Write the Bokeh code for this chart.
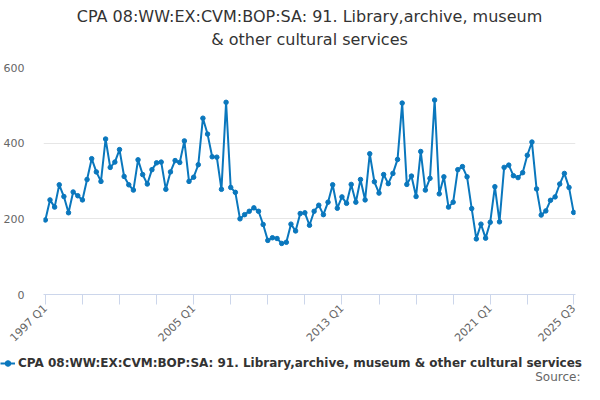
import math
from bokeh.plotting import figure
from bokeh.layouts import column
from bokeh.models import Range1d, FixedTicker, Title, Legend, LegendItem, Label
from bokeh.embed import file_html
from bokeh.resources import INLINE

title_line1 = "CPA 08:WW:EX:CVM:BOP:SA: 91. Library,archive, museum"
title_line2 = "& other cultural services"
series_name = "CPA 08:WW:EX:CVM:BOP:SA: 91. Library,archive, museum & other cultural services"
source_text = "Source:"

years = list(range(1997, 2026))
quarter_labels = [f"{y} Q{q}" for y in years for q in (1, 2, 3, 4)][:115]

values = [
    197, 250, 231, 290, 259, 216, 271, 261, 250, 304,
    359, 324, 299, 411, 336, 350, 383, 312, 290, 276,
    356, 317, 292, 330, 348, 350, 278, 324, 354,
    349, 406, 299, 310, 343, 466, 424, 364, 363, 278,
    508, 283, 270, 200, 211, 220, 229, 220, 185, 143,
    150, 148, 135, 138, 186, 168, 214, 216,
    183, 220, 236, 211, 244, 290, 228, 258, 241, 291,
    244, 304, 250, 372, 298, 268, 317, 293, 320, 357,
    506, 291, 313, 259, 378, 276, 307, 514,
    266, 311, 231, 244, 330, 338, 311, 227, 147, 186,
    149, 191, 285, 192, 336, 342, 314, 309, 322, 368,
    403, 279, 210, 221, 249, 258, 292, 320, 283, 217,
]
x_idx = list(range(len(values)))

tick_idx = list(range(0, 112, 8)) + [114]
labelled = {"1997 Q1", "2005 Q1", "2013 Q1", "2021 Q1", "2025 Q3"}

color = "#0a77bd"

p = figure(width=584, height=352, output_backend="svg", toolbar_location=None,
           title=None,
           x_range=Range1d(-0.4, 114.4), y_range=Range1d(0, 600),
           min_border_left=37, min_border_right=9, min_border_top=67,
           min_border_bottom=54)
p.frame_align = False
p.outline_line_color = None
p.background_fill_color = "white"
p.border_fill_color = "white"

p.line(x_idx, values, line_color=color, line_width=2)
p.scatter(x_idx, values, size=4.5, fill_color=color, line_color=color)

# axes
p.xgrid.grid_line_color = None
p.ygrid.grid_line_color = "#e6e6e6"
p.yaxis.ticker = FixedTicker(ticks=[0, 200, 400, 600])
p.yaxis.axis_line_color = None
p.yaxis.major_tick_line_color = None
p.yaxis.minor_tick_line_color = None
p.yaxis.major_label_standoff = 13
p.yaxis.major_label_text_font = "DejaVu Sans"
p.yaxis.major_label_text_font_size = "11px"
p.yaxis.major_label_text_color = "#666666"

p.xaxis.ticker = FixedTicker(ticks=tick_idx)
p.xaxis.major_label_overrides = {i: (quarter_labels[i] if quarter_labels[i] in labelled else "") for i in tick_idx}
p.xaxis.axis_line_color = "#ccd6eb"
p.xaxis.major_tick_line_color = "#ccd6eb"
p.xaxis.major_tick_out = 10
p.xaxis.major_tick_in = 0
p.xaxis.minor_tick_line_color = None
p.xaxis.major_label_orientation = math.pi / 4
p.xaxis.major_label_standoff = 2
p.xaxis.major_label_text_font = "DejaVu Sans"
p.xaxis.major_label_text_font_size = "11px"
p.xaxis.major_label_text_color = "#666666"

# titles, stacked outward from the frame: spacer, line 2, line 1
p.add_layout(Title(text=" ", text_font_size="1px", standoff=15), "above")
p.add_layout(Title(text=title_line2, align="center", text_font="DejaVu Sans",
                   text_font_size="16px", text_font_style="normal",
                   text_color="#333333", standoff=2), "above")
p.add_layout(Title(text=title_line1, align="center", text_font="DejaVu Sans",
                   text_font_size="16px", text_font_style="normal",
                   text_color="#333333", standoff=2), "above")

# legend strip below the chart
p2 = figure(width=584, height=32, output_backend="svg", toolbar_location=None,
            title=None, x_range=Range1d(0, 584), y_range=Range1d(0, 32),
            x_axis_type=None, y_axis_type=None,
            min_border_left=0, min_border_right=0, min_border_top=0,
            min_border_bottom=0)
p2.frame_align = False
p2.outline_line_color = None
p2.xgrid.grid_line_color = None
p2.ygrid.grid_line_color = None
p2.background_fill_color = "white"
p2.border_fill_color = "white"

l_line = p2.line(x_idx, values, line_color=color, line_width=2, visible=False)
l_pts = p2.scatter(x_idx, values, size=4.5, fill_color=color, line_color=color, visible=False)

legend = Legend(items=[LegendItem(label=series_name, renderers=[l_line, l_pts])],
                location=(0, 14), orientation="horizontal", padding=0, margin=0,
                glyph_width=15, glyph_height=14, label_height=14, label_standoff=3,
                label_text_font="DejaVu Sans", label_text_font_style="bold",
                label_text_font_size="12px", label_text_color="#333333",
                background_fill_alpha=0, border_line_color=None,
                inactive_fill_alpha=0)
p2.add_layout(legend)

p2.add_layout(Label(x=580, y=8, text=source_text, text_align="right",
                    text_baseline="middle", text_font="DejaVu Sans",
                    text_font_size="12px", text_color="#666666"))

open("out.html", "w").write(file_html(column(p, p2, spacing=0), INLINE))
